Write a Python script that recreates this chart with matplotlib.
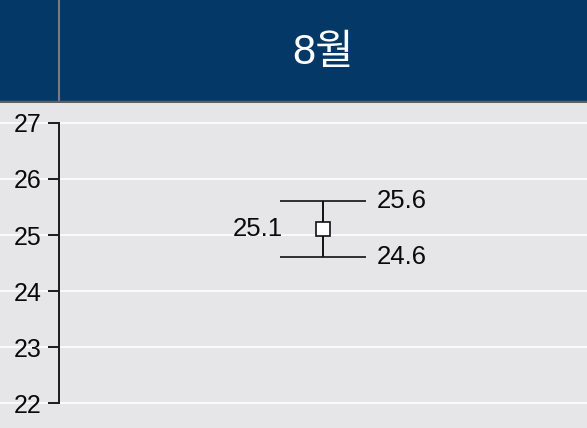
import matplotlib.pyplot as plt

plt.rcParams['font.family'] = ['Liberation Sans', 'Noto Sans CJK KR', 'DejaVu Sans']

# data
categories = ["8월"]
upper = [25.6]
mean = [25.1]
lower = [24.6]
yticks = [22, 23, 24, 25, 26, 27]

W, H = 587, 428
header_px = 103
fig = plt.figure(figsize=(W / 100, H / 100), dpi=100)
bg = "#e6e6e9"
navy = "#043967"
fig.patch.set_facecolor(bg)

# main plot area
ax = fig.add_axes([0, 0, 1, 1 - header_px / H])
ax.set_facecolor(bg)
left_frac = 59 / W
ax.set_xlim(-0.5 - left_frac / (1 - left_frac), 0.5)
ax.set_ylim(21.554, 27.357)

for s in ["top", "right", "bottom"]:
    ax.spines[s].set_visible(False)
ax.spines["left"].set_position(("axes", 58.5 / W))
ax.spines["left"].set_bounds(22, 27)
ax.spines["left"].set_linewidth(1.4)
ax.spines["left"].set_color("#1a1a1a")
ax.set_xticks([])
ax.set_yticks(yticks)
ax.tick_params(axis="y", length=8, width=1.4, color="#1a1a1a", pad=4.5,
               labelsize=18, labelcolor="#0a0a0a")
ax.yaxis.grid(True, color="white", linewidth=1.2)
ax.set_axisbelow(True)

fs = 18.5
for i, cat in enumerate(categories):
    ax.errorbar([i], [mean[i]], yerr=[[mean[i] - lower[i]], [upper[i] - mean[i]]],
                fmt="s", color="#111111", mfc="white", mec="#111111", mew=1.2,
                markersize=10, capsize=31, capthick=1.4, elinewidth=1.4, zorder=3)
    ax.annotate(f"{upper[i]}", (i, upper[i]), xytext=(39, 0), textcoords="offset points",
                ha="left", va="center", fontsize=fs, color="#0a0a0a")
    ax.annotate(f"{lower[i]}", (i, lower[i]), xytext=(39, 0), textcoords="offset points",
                ha="left", va="center", fontsize=fs, color="#0a0a0a")
    ax.annotate(f"{mean[i]}", (i, mean[i]), xytext=(-29, 0), textcoords="offset points",
                ha="right", va="center", fontsize=fs, color="#0a0a0a")

# header band
hx = fig.add_axes([0, 1 - header_px / H, 1, header_px / H])
hx.set_facecolor(navy)
hx.set_xlim(ax.get_xlim())
hx.set_ylim(0, 1)
hx.axis("off")
hx.add_patch(plt.Rectangle((0, 0), 1, 1, transform=hx.transAxes, color=navy))
hx.axvline(-0.5, color="#777c84", linewidth=1.5)
hx.axhline(0.012, color="#5c6168", linewidth=2.5)
for i, cat in enumerate(categories):
    hx.text(i, 0.49, cat, ha="center", va="center", color="white", fontsize=30)

fig.savefig("out.png", dpi=100, facecolor=bg)
